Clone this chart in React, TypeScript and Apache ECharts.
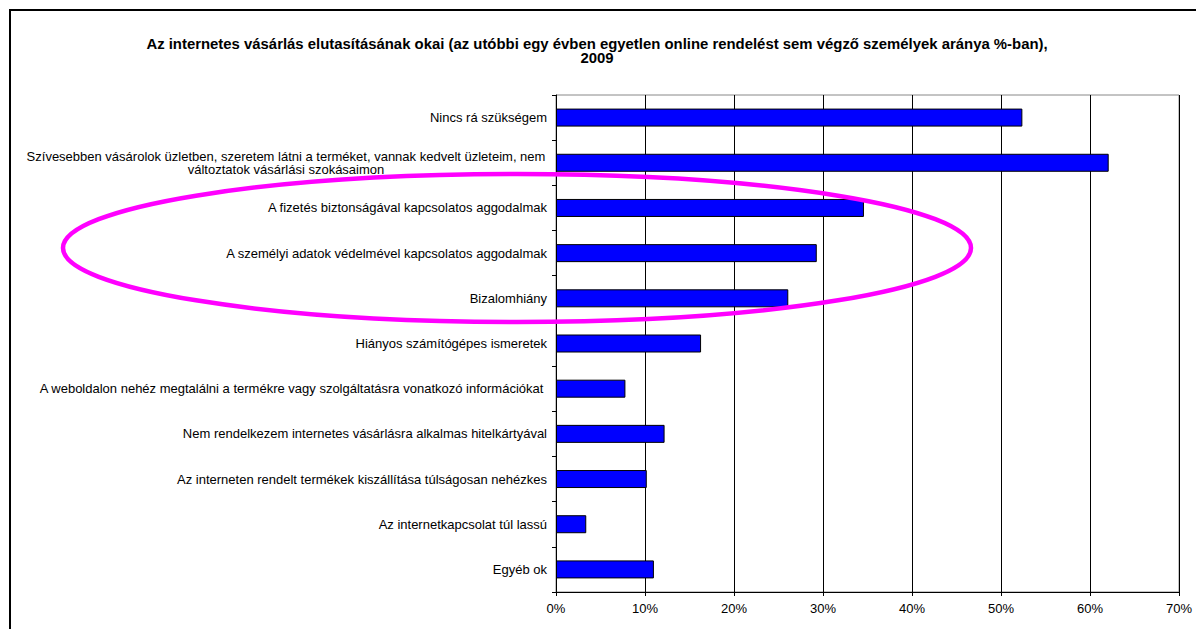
import React, { useEffect, useRef } from "react";
import * as echarts from "echarts";

const TITLE_LINES: string[] = [
  "Az internetes vásárlás elutasításának okai (az utóbbi egy évben egyetlen online rendelést sem végző személyek aránya %-ban),",
  "2009",
];

const categories: string[] = [
  "Nincs rá szükségem",
  "Szívesebben vásárolok üzletben, szeretem látni a terméket, vannak kedvelt üzleteim, nem\nváltoztatok vásárlási szokásaimon",
  "A fizetés biztonságával kapcsolatos aggodalmak",
  "A személyi adatok védelmével kapcsolatos aggodalmak",
  "Bizalomhiány",
  "Hiányos számítógépes ismeretek",
  "A weboldalon nehéz megtalálni a termékre vagy szolgáltatásra vonatkozó információkat ",
  "Nem rendelkezem internetes vásárlásra alkalmas hitelkártyával",
  "Az interneten rendelt termékek kiszállítása túlságosan nehézkes",
  "Az internetkapcsolat túl lassú",
  "Egyéb ok",
];

const values: number[] = [52.4, 62.1, 34.6, 29.3, 26.1, 16.3, 7.8, 12.2, 10.2, 3.4, 11.0];

const xTicks: number[] = [0, 10, 20, 30, 40, 50, 60, 70];

const FONT = "'Liberation Sans', Arial, Helvetica, sans-serif";

export default function App() {
  const ref = useRef<HTMLDivElement>(null);

  useEffect(() => {
    if (!ref.current) return;
    const chart = echarts.init(ref.current, undefined, { renderer: "svg" });
    chart.setOption({
      animation: false,
      backgroundColor: "#ffffff",
      grid: {
        left: 556,
        right: 1196 - 1179,
        top: 95,
        bottom: 629 - 592,
        show: true,
        borderColor: "#888888",
        borderWidth: 1,
        backgroundColor: "transparent",
      },
      xAxis: {
        type: "value",
        min: xTicks[0],
        max: xTicks[xTicks.length - 1],
        interval: 10,
        axisLine: { show: true, lineStyle: { color: "#000", width: 1 } },
        axisTick: { show: true, length: 4, lineStyle: { color: "#000" } },
        splitLine: { show: true, lineStyle: { color: "#000", width: 1 } },
        axisLabel: {
          formatter: (v: number) => `${v}%`,
          fontFamily: FONT,
          fontSize: 13,
          color: "#000",
          margin: 10,
        },
      },
      yAxis: {
        type: "category",
        inverse: true,
        data: categories,
        axisLine: { show: true, lineStyle: { color: "#000", width: 1 } },
        axisTick: { show: true, length: 4, lineStyle: { color: "#000" } },
        axisLabel: {
          interval: 0,
          fontFamily: FONT,
          fontSize: 13,
          color: "#000",
          margin: 9,
          lineHeight: 13.5,
          formatter: (v: string) =>
            v.includes("\n")
              ? v
                  .split("\n")
                  .map((l) => `{c|${l}}`)
                  .join("\n")
              : v,
          rich: {
            c: {
              width: 522,
              align: "center",
              fontFamily: FONT,
              fontSize: 13,
              lineHeight: 13.5,
              color: "#000",
            },
          },
        },
      },
      series: [
        {
          type: "bar",
          data: values,
          barWidth: 18,
          itemStyle: {
            color: "#0000FF",
            borderColor: "#000",
            borderWidth: 1,
          },
        },
      ],
      graphic: [
        {
          type: "text",
          x: 597,
          y: 44,
          style: {
            text: TITLE_LINES[0],
            fontFamily: FONT,
            fontSize: 14.9,
            fontWeight: "bold",
            fill: "#000",
            textAlign: "center",
            textVerticalAlign: "middle",
          },
          silent: true,
        },
        {
          type: "text",
          x: 597,
          y: 58,
          style: {
            text: TITLE_LINES[1],
            fontFamily: FONT,
            fontSize: 14.9,
            fontWeight: "bold",
            fill: "#000",
            textAlign: "center",
            textVerticalAlign: "middle",
          },
          silent: true,
        },
        {
          type: "rect",
          shape: { x: 10, y: 10, width: 1300, height: 800 },
          style: { fill: "none", stroke: "#000", lineWidth: 2 },
          z: 50,
          silent: true,
        },
        {
          type: "ellipse",
          shape: { cx: 517, cy: 248, rx: 454, ry: 74 },
          style: { fill: "none", stroke: "#FF00FF", lineWidth: 4.5 },
          z: 100,
          silent: true,
        },
      ],
    });
    return () => chart.dispose();
  }, []);

  return (
    <div
      ref={ref}
      style={{ position: "fixed", left: 0, top: 0, width: 1196, height: 629 }}
    />
  );
}
